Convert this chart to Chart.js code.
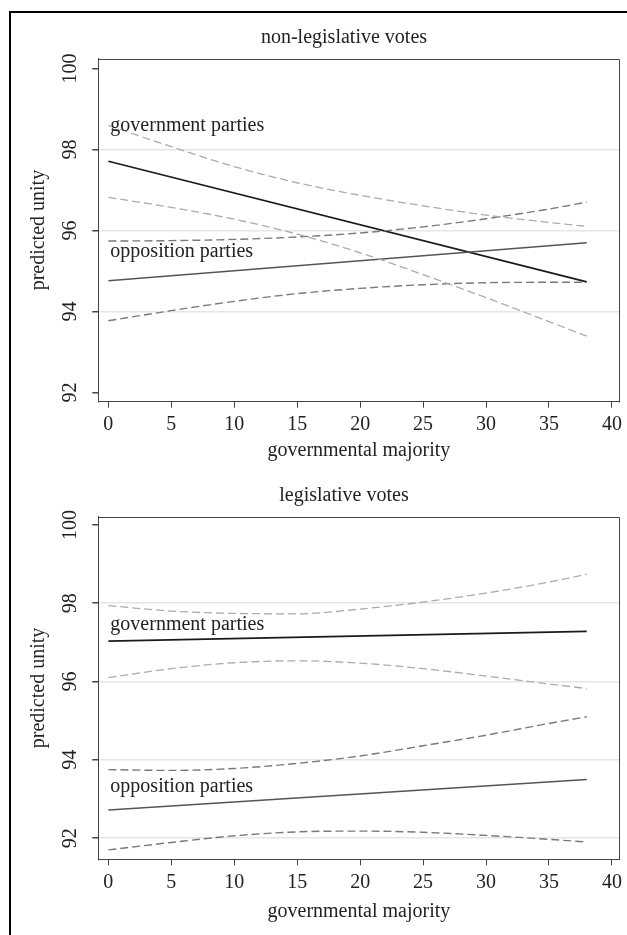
<!DOCTYPE html>
<html>
<head>
<meta charset="utf-8">
<script src="https://cdn.jsdelivr.net/npm/chart.js@4.4.1/dist/chart.umd.min.js"></script>
<style>
html, body { margin:0; padding:0; background:#fff; width:627px; height:935px; overflow:hidden; }
#frame { position:absolute; left:9px; top:11px; width:700px; height:1000px; border-left:2px solid #000; border-top:2px solid #000; box-sizing:border-box; }
.wrap { position:absolute; left:0; width:627px; }
canvas { display:block; }
</style>
</head>
<body>
<div id="frame"></div>
<div class="wrap" style="top:0;height:467px"><canvas id="c1" width="627" height="467"></canvas></div>
<div class="wrap" style="top:467px;height:468px"><canvas id="c2" width="627" height="468"></canvas></div>
<script>
// ---------- data ----------
const xTicks = [0, 5, 10, 15, 20, 25, 30, 35, 40];
const yTicks = [92, 94, 96, 98, 100];
const fitX = [0, 38];
const ciX = [0, 5, 10, 15, 20, 25, 30, 35, 38];
const panelTitles = ['non-legislative votes', 'legislative votes'];
const groupNames = ['government parties', 'opposition parties'];
const xTitle = 'governmental majority';
const yTitle = 'predicted unity';

// non-legislative votes
const nlGovFit   = [97.71, 94.73];
const nlGovUpper = [98.60, 98.07, 97.58, 97.18, 96.87, 96.61, 96.38, 96.20, 96.10];
const nlGovLower = [96.82, 96.57, 96.28, 95.91, 95.45, 94.91, 94.34, 93.75, 93.39];
const nlOppFit   = [94.76, 95.70];
const nlOppUpper = [95.74, 95.75, 95.78, 95.84, 95.94, 96.09, 96.29, 96.53, 96.70];
const nlOppLower = [93.77, 94.02, 94.25, 94.44, 94.57, 94.66, 94.71, 94.72, 94.72];

// legislative votes
const lgGovFit   = [97.03, 97.28];
const lgGovUpper = [97.94, 97.80, 97.74, 97.73, 97.85, 98.03, 98.26, 98.54, 98.74];
const lgGovLower = [96.10, 96.33, 96.48, 96.53, 96.47, 96.33, 96.14, 95.94, 95.82];
const lgOppFit   = [92.72, 93.50];
const lgOppUpper = [93.75, 93.73, 93.78, 93.91, 94.10, 94.36, 94.63, 94.93, 95.10];
const lgOppLower = [91.70, 91.89, 92.06, 92.16, 92.18, 92.15, 92.07, 91.97, 91.90];

// label anchor values (y value of text baseline, at x = 0)
const nlLabelY = [98.46, 95.35];
const lgLabelY = [97.32, 93.19];

// ---------- styling ----------
const FONT = '"Liberation Serif", "Times New Roman", serif';
const TEXT = '#222';
const AXIS = '#444';

function pts(xs, ys) { return xs.map((x, i) => ({ x: x, y: ys[i] })); }

const boxPlugin = {
  id: 'plotBox',
  beforeDatasetsDraw(chart) {
    const a = chart.chartArea, c = chart.ctx;
    c.save();
    c.strokeStyle = AXIS; c.lineWidth = 1;
    c.beginPath();
    c.moveTo(Math.round(a.left) + 0.5, Math.round(a.top) + 0.5);
    c.lineTo(Math.round(a.right) + 0.5, Math.round(a.top) + 0.5);
    c.lineTo(Math.round(a.right) + 0.5, Math.round(a.bottom) + 0.5);
    c.stroke();
    c.restore();
  }
};

const textPlugin = {
  id: 'panelText',
  afterDraw(chart, args, o) {
    const c = chart.ctx, xs = chart.scales.x, ys = chart.scales.y;
    c.save();
    c.fillStyle = TEXT;
    c.font = '20px ' + FONT;
    c.textAlign = 'center'; c.textBaseline = 'middle';
    c.fillText(o.title, o.titleX, o.titleY);
    c.textAlign = 'left'; c.textBaseline = 'alphabetic';
    o.labels.forEach((t, i) => {
      c.fillText(t, xs.getPixelForValue(0) + 2, ys.getPixelForValue(o.labelY[i]));
    });
    c.restore();
  }
};

function makeChart(id, p) {
  const govCI = { borderColor: '#ababab', borderWidth: 1.3, borderDash: [8, 4] };
  const oppCI = { borderColor: '#7a7a7a', borderWidth: 1.4, borderDash: [8, 4] };
  const common = { pointRadius: 0, fill: false, cubicInterpolationMode: 'monotone' };
  return new Chart(document.getElementById(id), {
    type: 'line',
    data: {
      datasets: [
        Object.assign({ label: 'gov upper', data: pts(ciX, p.govUpper) }, common, govCI),
        Object.assign({ label: 'gov lower', data: pts(ciX, p.govLower) }, common, govCI),
        Object.assign({ label: 'opp upper', data: pts(ciX, p.oppUpper) }, common, oppCI),
        Object.assign({ label: 'opp lower', data: pts(ciX, p.oppLower) }, common, oppCI),
        Object.assign({ label: groupNames[1], data: pts(fitX, p.oppFit), borderColor: '#555', borderWidth: 1.5 }, common),
        Object.assign({ label: groupNames[0], data: pts(fitX, p.govFit), borderColor: '#1a1a1a', borderWidth: 1.7 }, common)
      ]
    },
    options: {
      responsive: false,
      animation: false,
      layout: { padding: { top: p.areaTop, right: 6.7, left: 0, bottom: 0 } },
      plugins: {
        legend: { display: false },
        tooltip: { enabled: false },
        panelText: { title: p.title, titleX: 344, titleY: p.titleY, labels: groupNames, labelY: p.labelY }
      },
      scales: {
        x: {
          type: 'linear', min: -0.8, max: 40.6,
          afterBuildTicks: s => { s.ticks = xTicks.map(v => ({ value: v })); },
          afterFit: s => { s.height = p.canvasH - p.areaBottom; },
          border: { display: true, color: AXIS, width: 1 },
          grid: { drawOnChartArea: false, tickColor: AXIS, tickLength: 6, lineWidth: 1 },
          ticks: { color: TEXT, font: { family: FONT, size: 20 }, padding: 5, maxRotation: 0, autoSkip: false },
          title: { display: true, text: xTitle, color: TEXT, font: { family: FONT, size: 20 }, padding: { top: 0, bottom: p.xTitlePad } }
        },
        y: {
          type: 'linear', min: p.yMin, max: p.yMax,
          afterBuildTicks: s => { s.ticks = yTicks.map(v => ({ value: v })); },
          afterFit: s => { s.width = 98.3; },
          border: { display: true, color: AXIS, width: 1 },
          grid: {
            color: c => (c.tick && p.gridSkip.includes(c.tick.value)) ? 'rgba(0,0,0,0)' : '#e6e6e6',
            lineWidth: 1.5, tickColor: AXIS, tickLength: 6
          },
          ticks: { color: TEXT, font: { family: FONT, size: 20 }, padding: 7, minRotation: 90, maxRotation: 90, crossAlign: 'center', autoSkip: false },
          title: { display: true, text: yTitle, color: TEXT, font: { family: FONT, size: 20 }, padding: { top: 27, bottom: 0 } }
        }
      }
    },
    plugins: [boxPlugin, textPlugin]
  });
}

makeChart('c1', {
  title: panelTitles[0], titleY: 38, canvasH: 467, areaTop: 58.5, areaBottom: 401.7,
  yMin: 91.77, yMax: 100.25, xTitlePad: 4, gridSkip: [92, 100], labelY: nlLabelY,
  govFit: nlGovFit, govUpper: nlGovUpper, govLower: nlGovLower,
  oppFit: nlOppFit, oppUpper: nlOppUpper, oppLower: nlOppLower
});
makeChart('c2', {
  title: panelTitles[1], titleY: 28.3, canvasH: 468, areaTop: 49.7, areaBottom: 392.3,
  yMin: 91.46, yMax: 100.21, xTitlePad: 11, gridSkip: [100], labelY: lgLabelY,
  govFit: lgGovFit, govUpper: lgGovUpper, govLower: lgGovLower,
  oppFit: lgOppFit, oppUpper: lgOppUpper, oppLower: lgOppLower
});
</script>
</body>
</html>
